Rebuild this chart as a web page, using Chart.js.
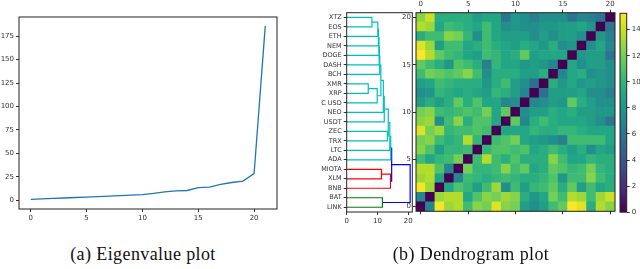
<!DOCTYPE html>
<html>
<head>
<meta charset="utf-8">
<script src="https://cdn.jsdelivr.net/npm/chart.js@4.4.1/dist/chart.umd.min.js"></script>
<style>
  html, body { margin: 0; padding: 0; background: #fff; }
  #fig { position: relative; width: 640px; height: 269px; overflow: hidden; }
  canvas { position: absolute; top: 0; }
  .cap { position: absolute; top: 244px; font-family: "Liberation Serif", serif; font-size: 18px; letter-spacing: 0.4px; color: #111; white-space: nowrap; transform: translateX(-50%); }
</style>
</head>
<body>
<div id="fig">
  <canvas id="eigChart" width="300" height="240" style="left:0px"></canvas>
  <canvas id="dendroChart" width="95" height="240" style="left:321px"></canvas>
  <canvas id="heatChart" width="222" height="240" style="left:396px"></canvas>
  <canvas id="cbarChart" width="28" height="240" style="left:612px"></canvas>
  <div class="cap" style="left:143px">(a) Eigenvalue plot</div>
  <div class="cap" style="left:471px">(b) Dendrogram plot</div>
</div>
<script>
// --- DATA ---
const eigenvalues = [1, 1.5, 2, 2.5, 3, 3.5, 4, 4.5, 5, 5.5, 6, 7.5, 9, 10, 10.5, 13.5, 14, 17, 19, 20.5, 28.5, 186];
const eigXTicks = [0, 5, 10, 15, 20];
const eigYTicks = [0, 25, 50, 75, 100, 125, 150, 175];

// leaves, bottom -> top
const leafNames = ['LINK', 'BAT', 'BNB', 'XLM', 'MIOTA', 'ADA', 'LTC', 'TRX', 'ZEC', 'USDT', 'NEO',
  'BTC USD', 'XRP', 'XMR', 'BCH', 'DASH', 'DOGE', 'NEM', 'ETH', 'EOS', 'XTZ'];

// linkage (scipy style: new cluster id = 21 + row)
const linkA = [13, 20, 22, 21, 23, 25, 26, 27, 28, 29, 30, 8, 31, 33, 34, 3, 36, 35, 1, 38];
const linkB = [12, 19, 18, 11, 17, 16, 15, 14, 24, 10, 9, 7, 32, 6, 5, 4, 2, 37, 0, 39];
const linkHeight = [7.0, 8.2, 10.1, 9.9, 10.3, 10.5, 10.6, 10.75, 11.1, 11.9, 12.2, 13.2, 13.5, 14.0, 14.3, 11.3, 14.2, 14.6, 11.6, 20.6];
const linkColor = ['c', 'c', 'c', 'c', 'c', 'c', 'c', 'c', 'c', 'c', 'c', 'c', 'c', 'c', 'c', 'r', 'r', 'b', 'g', 'b'];
const dendroXTicks = [0, 10, 20];

// distance matrix, lower triangle (row r has r entries), rows in leaf order
const distLower = [
  [],
  [7],
  [15, 13],
  [13, 13.5, 9],
  [13.5, 13.5, 11, 7],
  [10.5, 9, 10, 10.5, 12],
  [12.5, 11, 8.5, 10, 10, 10.5],
  [12, 12.5, 10.5, 9.5, 10, 13.5, 10],
  [14.5, 12, 13, 10, 10.5, 10.5, 11, 10.5],
  [12.5, 13, 7.5, 10.5, 12.5, 9.5, 11, 11, 9],
  [12, 12.5, 10.5, 10, 10.5, 11, 10.5, 12, 9, 11.5],
  [8.5, 9.5, 8.5, 9.5, 11.5, 9.5, 11, 9, 9, 7, 7.5],
  [7.5, 8, 10, 9.5, 9, 9.5, 9, 8.5, 10, 9.5, 8.5, 7],
  [8.5, 9, 10.5, 10, 9.5, 9.5, 9.5, 8, 9.5, 10.5, 8.5, 7.5, 5.5],
  [10.5, 12, 11.5, 11, 11.5, 12.5, 10.5, 7.5, 9.5, 9.5, 9.5, 8.5, 8.5, 9.5],
  [11.5, 10.5, 9.5, 8, 11, 10.5, 9.5, 6.5, 10, 9, 9, 8, 8.5, 8, 7],
  [15.2, 13.5, 11.5, 10.5, 10, 9, 8.5, 10.5, 10, 9, 9.5, 11.5, 8.5, 9, 9, 9],
  [14.5, 13, 8.5, 10.5, 10.5, 9, 9.5, 10.5, 9.5, 9, 8.5, 9.5, 9, 8, 9.5, 7.5, 8],
  [9.5, 10.5, 10.5, 12.5, 12, 10, 7.5, 10.5, 9, 8.5, 8.5, 8.5, 7.5, 8.5, 7.5, 8.5, 8.5, 7.5],
  [13.5, 13, 9, 10.5, 10, 9.5, 9, 10.5, 9, 7.5, 8, 7.5, 7.5, 8, 8, 8.5, 8.5, 9, 8],
  [12.5, 14, 9.5, 9.5, 9.5, 9.5, 8.5, 9, 9, 6, 8, 7.5, 6.5, 7.5, 7.5, 7.5, 6, 7, 6.5, 6]
];
const heatTicks = [0, 5, 10, 15, 20];
const cbarTicks = [0, 2, 4, 6, 8, 10, 12, 14];
const vmin = 0, vmax = 15.25;

// --- HELPERS ---
const tickFont = { family: 'DejaVu Sans', size: 7 };
const tickColor = '#333';
const colorMap = { c: '#00bfbf', r: '#ff0000', g: '#008000', b: '#0000ff' };

const viridisStops = [[68,1,84],[72,36,117],[65,68,135],[53,95,141],[42,120,142],[33,145,140],
  [34,168,132],[68,191,112],[122,209,81],[189,223,38],[253,231,37]];
function viridis(t) {
  t = Math.max(0, Math.min(1, t));
  const p = t * 10, i = Math.min(9, Math.floor(p)), f = p - i;
  const a = viridisStops[i], b = viridisStops[i + 1];
  return 'rgb(' + a.map((v, k) => Math.round(v + (b[k] - v) * f)).join(',') + ')';
}

const fixTicks = (vals) => (s) => { s.ticks = vals.map(v => ({ value: v })); };

// frame around plot area (all 4 spines)
const framePlugin = {
  id: 'frame',
  afterDraw(chart) {
    const { ctx, chartArea: a } = chart;
    ctx.save();
    ctx.strokeStyle = '#222';
    ctx.lineWidth = 1;
    ctx.strokeRect(a.left, a.top, a.right - a.left, a.bottom - a.top);
    ctx.restore();
  }
};

const axisGrid = { drawOnChartArea: false, tickLength: 3, color: tickColor };
const baseOpts = {
  responsive: false, animation: false, devicePixelRatio: 1,
  plugins: { legend: { display: false }, tooltip: { enabled: false } }
};

// --- 1. EIGENVALUE PLOT ---
new Chart(document.getElementById('eigChart'), {
  type: 'line',
  data: {
    datasets: [{
      data: eigenvalues.map((v, i) => ({ x: i, y: v })),
      borderColor: '#1f77b4', borderWidth: 1.3, pointRadius: 0, tension: 0, fill: false
    }]
  },
  options: {
    ...baseOpts,
    layout: { padding: { left: 0, right: 23, top: 17, bottom: 0 } },
    scales: {
      x: {
        type: 'linear', min: -1.05, max: 22.05,
        afterBuildTicks: fixTicks(eigXTicks),
        afterFit: s => { s.height = 31; },
        grid: axisGrid, border: { display: false },
        ticks: { font: tickFont, color: tickColor, padding: 2, maxRotation: 0 }
      },
      y: {
        type: 'linear', min: -9.25, max: 195.5,
        afterBuildTicks: fixTicks(eigYTicks),
        afterFit: s => { s.width = 19; },
        grid: axisGrid, border: { display: false },
        ticks: { font: tickFont, color: tickColor, padding: 2 }
      }
    }
  },
  plugins: [framePlugin]
});

// --- 2. DENDROGRAM ---
const nodeY = leafNames.map((_, i) => 5 + 10 * i);
const nodeH = leafNames.map(() => 0);
const dendroDatasets = linkA.map((a, k) => {
  const b = linkB[k], h = linkHeight[k];
  const ds = {
    data: [{ x: nodeH[a], y: nodeY[a] }, { x: h, y: nodeY[a] }, { x: h, y: nodeY[b] }, { x: nodeH[b], y: nodeY[b] }],
    borderColor: colorMap[linkColor[k]], borderWidth: 1.2,
    showLine: true, pointRadius: 0, fill: false, tension: 0
  };
  nodeY.push((nodeY[a] + nodeY[b]) / 2);
  nodeH.push(h);
  return ds;
});

new Chart(document.getElementById('dendroChart'), {
  type: 'scatter',
  data: { datasets: dendroDatasets },
  options: {
    ...baseOpts,
    layout: { padding: { left: 0, right: 3.7, top: 12.7, bottom: 0 } },
    scales: {
      x: {
        type: 'linear', min: 0, max: 21.3,
        afterBuildTicks: fixTicks(dendroXTicks),
        afterFit: s => { s.height = 28; },
        grid: axisGrid, border: { display: false },
        ticks: { font: tickFont, color: tickColor, padding: 2, maxRotation: 0 }
      },
      y: {
        type: 'linear', min: 0, max: 210,
        afterBuildTicks: fixTicks(leafNames.map((_, i) => 5 + 10 * i)),
        afterFit: s => { s.width = 25.7; },
        grid: axisGrid, border: { display: false },
        ticks: {
          font: { family: 'DejaVu Sans', size: 6.5 }, color: tickColor, padding: 2, autoSkip: false,
          callback: v => leafNames[Math.round((v - 5) / 10)]
        }
      }
    }
  },
  plugins: [framePlugin]
});

// --- 3. HEATMAP ---
const nLeaves = leafNames.length;
const cellValue = (r, c) => r === c ? 0 : (c < r ? distLower[r][c] : distLower[c][r]);
const heatLabels = leafNames.map((_, i) => String(i));
const heatDatasets = leafNames.map((_, r) => ({
  data: leafNames.map(() => [r - 0.5, r + 0.5]),
  backgroundColor: leafNames.map((_, c) => viridis((cellValue(r, c) - vmin) / (vmax - vmin))),
  borderWidth: 0, grouped: false, barPercentage: 1, categoryPercentage: 1
}));
const heatGrid = {
  drawOnChartArea: false, tickLength: 3, offset: false,
  color: ctx => (ctx.index % 5 === 0 ? tickColor : 'rgba(0,0,0,0)')
};

new Chart(document.getElementById('heatChart'), {
  type: 'bar',
  data: { labels: heatLabels, datasets: heatDatasets },
  options: {
    ...baseOpts,
    layout: { padding: { left: 0, right: 3, top: 0, bottom: 0 } },
    scales: {
      x: {
        type: 'category', position: 'top', offset: true,
        afterFit: s => { s.height = 12.7; },
        grid: heatGrid, border: { display: false },
        ticks: {
          font: tickFont, color: tickColor, padding: 1, autoSkip: false, maxRotation: 0,
          callback: (v, i) => (i % 5 === 0 ? heatLabels[i] : '')
        }
      },
      x2: {
        type: 'category', position: 'bottom', offset: true,
        afterFit: s => { s.height = 28.7; },
        grid: heatGrid, border: { display: false },
        ticks: { autoSkip: false, maxRotation: 0, color: 'rgba(0,0,0,0)', font: tickFont }
      },
      y: {
        type: 'linear', min: -0.5, max: nLeaves - 0.5,
        afterBuildTicks: fixTicks(heatTicks),
        afterFit: s => { s.width = 20; },
        grid: axisGrid, border: { display: false },
        ticks: { font: tickFont, color: tickColor, padding: 2 }
      }
    }
  },
  plugins: [framePlugin]
});

// --- 4. COLORBAR ---
new Chart(document.getElementById('cbarChart'), {
  type: 'bar',
  data: {
    labels: ['cbar'],
    datasets: [{
      data: [[vmin, vmax]],
      borderWidth: 0, barPercentage: 1, categoryPercentage: 1,
      backgroundColor: ctx => {
        const ca = ctx.chart.chartArea;
        if (!ca) return viridis(0.5);
        const g = ctx.chart.ctx.createLinearGradient(0, ca.bottom, 0, ca.top);
        viridisStops.forEach((c, i) => g.addColorStop(i / 10, 'rgb(' + c.join(',') + ')'));
        return g;
      }
    }]
  },
  options: {
    ...baseOpts,
    layout: { padding: { left: 8, right: 0, top: 13.3, bottom: 27.8 } },
    scales: {
      x: { display: false },
      y: {
        type: 'linear', position: 'right', min: vmin, max: vmax,
        afterBuildTicks: fixTicks(cbarTicks),
        afterFit: s => { s.width = 13.3; },
        grid: axisGrid, border: { display: false },
        ticks: { font: tickFont, color: tickColor, padding: 2 }
      }
    }
  },
  plugins: [framePlugin]
});
</script>
</body>
</html>
